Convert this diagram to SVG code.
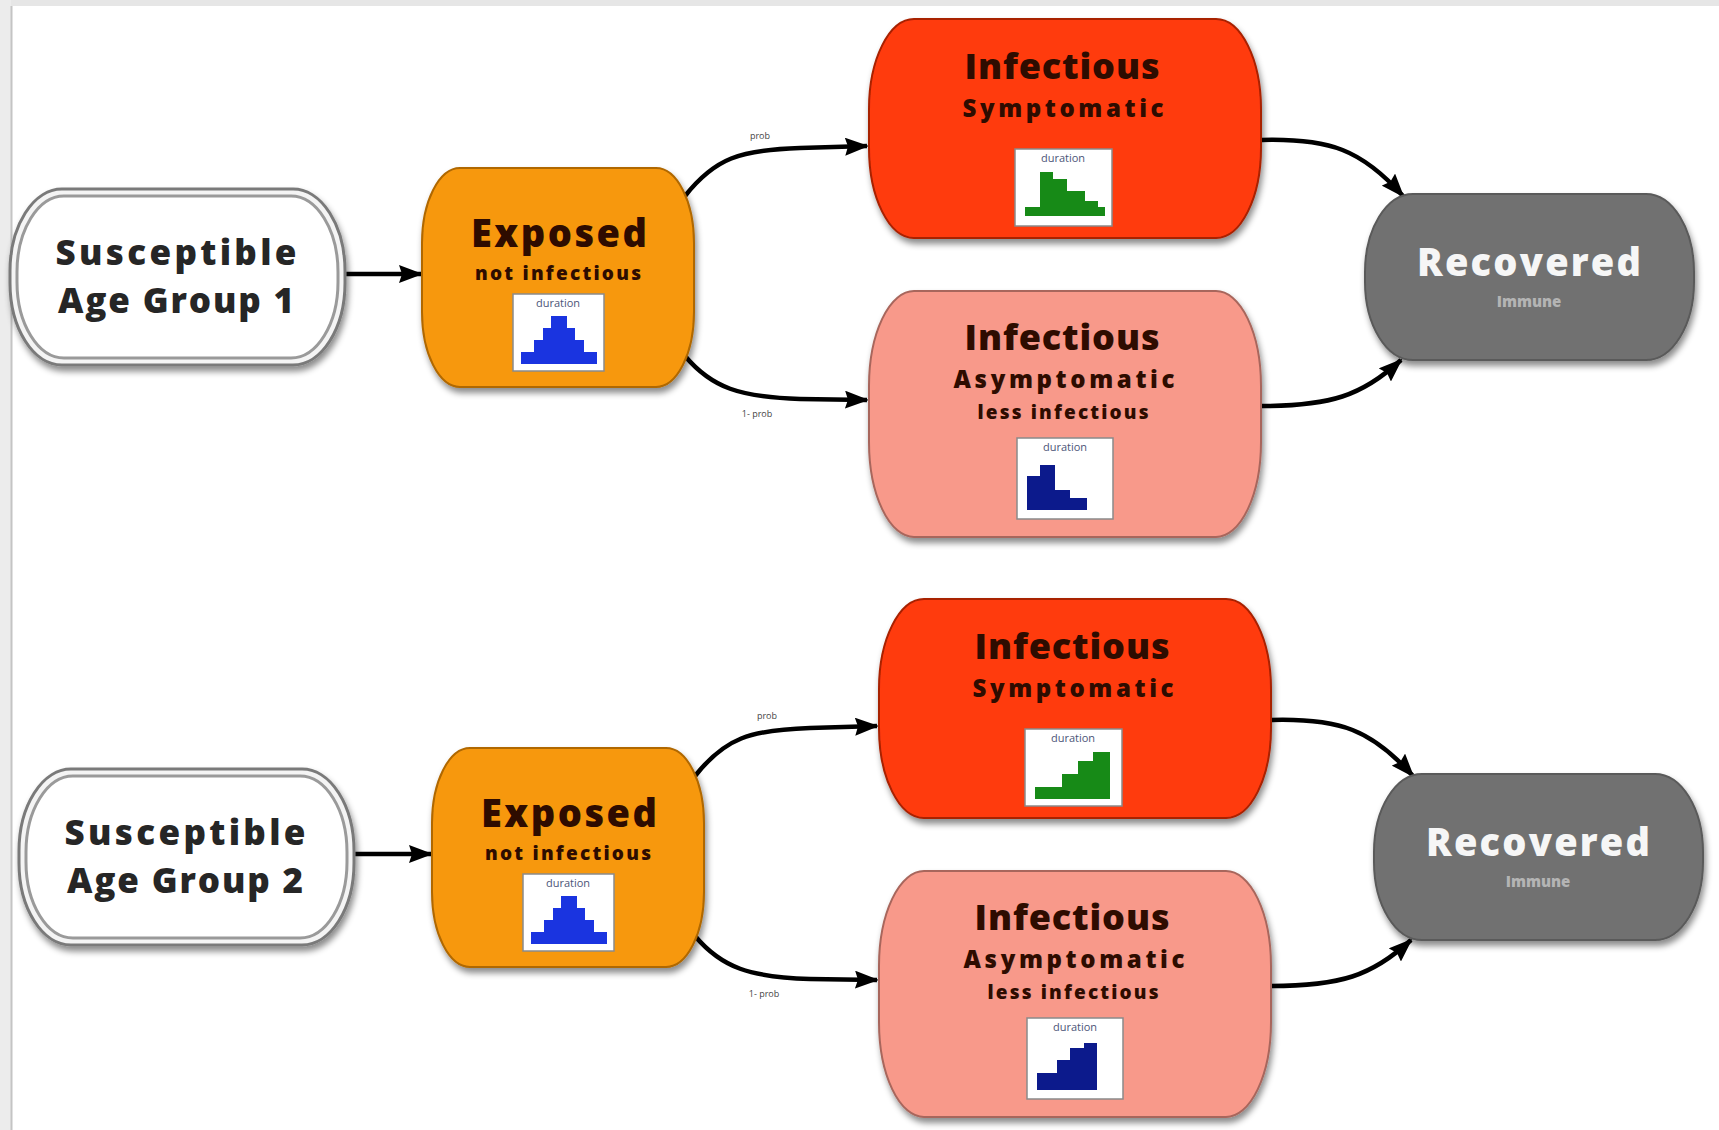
<svg xmlns="http://www.w3.org/2000/svg" width="1719" height="1130" viewBox="0 0 1719 1130">
<defs>
<filter id="sh" x="-10%" y="-10%" width="125%" height="130%">
<feDropShadow dx="2" dy="5" stdDeviation="3" flood-color="#000" flood-opacity="0.45"/>
</filter>
<marker id="ah" viewBox="0 0 24 18" refX="22" refY="9" markerWidth="24" markerHeight="18" markerUnits="userSpaceOnUse" orient="auto">
<path d="M0,0 L24,9 L0,18 L3,9 Z" fill="#000"/>
</marker>
<style>
.t{font-family:"Open Sans","DejaVu Sans",sans-serif;font-weight:800;text-anchor:middle}
.big{font-size:38px}
.sus1{font-size:35px}
.inf{font-size:36px}
.mid{font-size:24px}
.sm{font-size:19px}
.dark{fill:#2e0c00}
.sus{fill:#262626}
.exp{fill:#f7980f;stroke:#b06800;stroke-width:2}
.ins{fill:#ff3a0e;stroke:#a82000;stroke-width:2}
.ina{fill:#f8998a;stroke:#a8665c;stroke-width:2}
.rec{fill:#717171;stroke:#5a5a5a;stroke-width:2}
.hbox{fill:#fff;stroke:#8a8a8a;stroke-width:1.5}
.dur{font-family:"Open Sans","DejaVu Sans",sans-serif;font-size:11px;fill:#4c5578;text-anchor:middle}
.blue{fill:#1a34e0}
.green{fill:#178a17}
.navy{fill:#0c1a8c}
.conn{fill:none;stroke:#000;stroke-width:4.5;marker-end:url(#ah)}
.lbl{font-family:"Open Sans","DejaVu Sans",sans-serif;font-size:9px;fill:#444;text-anchor:middle}
</style>
</defs>
<rect x="0" y="0" width="1719" height="1130" fill="#fff"/>
<rect x="0" y="0" width="1719" height="6" fill="#e6e6e6"/>
<rect x="0" y="0" width="11" height="1130" fill="#ececec"/>
<line x1="11.5" y1="6" x2="11.5" y2="1130" stroke="#c4c4c4" stroke-width="2"/>

<g id="connectors">
<path class="conn" d="M345,274 L421,274"/>
<path class="conn" d="M685,196 C715,158 740,150 800,148 L867,146"/>
<path class="conn" d="M685,356 C712,388 740,397 800,399 L867,400"/>
<path class="conn" d="M1261,140 C1330,138 1362,150 1403,196"/>
<path class="conn" d="M1261,406 C1330,406 1362,396 1401,360"/>
<text class="lbl" x="760" y="139">prob</text>
<text class="lbl" x="757" y="417">1- prob</text>
<g transform="translate(10,580)">
<path class="conn" d="M345,274 L421,274"/>
<path class="conn" d="M685,196 C715,158 740,150 800,148 L867,146"/>
<path class="conn" d="M685,356 C712,388 740,397 800,399 L867,400"/>
<path class="conn" d="M1261,140 C1330,138 1362,150 1403,196"/>
<path class="conn" d="M1261,406 C1330,406 1362,396 1401,360"/>
<text class="lbl" x="757" y="139">prob</text>
<text class="lbl" x="754" y="417">1- prob</text>
</g>
</g>

<g id="susceptible1">
<rect x="10" y="189" width="335" height="176" rx="52" ry="82" fill="#f4f4f4" stroke="#7a7a7a" stroke-width="3" filter="url(#sh)"/>
<rect x="17" y="196" width="321" height="162" rx="47" ry="76" fill="#fff" stroke="#9a9a9a" stroke-width="3"/>
<text class="t sus1 sus" x="176" y="265" textLength="241">Susceptible</text>
<text class="t sus1 sus" x="176" y="313" textLength="236">Age Group 1</text>
</g>

<g id="exposed1">
<rect class="exp" x="422" y="168" width="272" height="219" rx="38" ry="75" filter="url(#sh)"/>
<text class="t big dark" x="559" y="247" textLength="176">Exposed</text>
<text class="t sm dark" x="558" y="280" textLength="166">not infectious</text>
<rect class="hbox" x="513" y="294" width="91" height="77"/>
<text class="dur" x="558" y="307">duration</text>
<g class="blue" transform="translate(513,294)">
<rect x="38" y="22" width="16" height="48"/>
<rect x="30" y="34" width="32" height="36"/>
<rect x="21" y="46" width="50" height="24"/>
<rect x="8" y="58" width="76" height="12"/>
</g>
</g>

<g id="infectious_sym1">
<rect class="ins" x="869" y="19" width="392" height="219" rx="45" ry="90" filter="url(#sh)"/>
<text class="t inf dark" x="1062" y="79" textLength="195">Infectious</text>
<text class="t mid dark" x="1063" y="117" textLength="201">Symptomatic</text>
<rect class="hbox" x="1015" y="149" width="97" height="77"/>
<text class="dur" x="1063" y="162">duration</text>
<g class="green" transform="translate(1015,149)">
<rect x="10" y="58" width="80" height="9"/>
<rect x="25" y="23" width="13" height="44"/>
<rect x="38" y="30" width="14" height="37"/>
<rect x="52" y="42" width="18" height="25"/>
<rect x="70" y="52" width="13" height="15"/>
</g>
</g>

<g id="infectious_asym1">
<rect class="ina" x="869" y="291" width="392" height="246" rx="45" ry="95" filter="url(#sh)"/>
<text class="t inf dark" x="1062" y="350" textLength="195">Infectious</text>
<text class="t mid dark" x="1064" y="388" textLength="221">Asymptomatic</text>
<text class="t sm dark" x="1063" y="419" textLength="171">less infectious</text>
<rect class="hbox" x="1017" y="438" width="96" height="81"/>
<text class="dur" x="1065" y="451">duration</text>
<g class="navy" transform="translate(1017,438)">
<rect x="10" y="38" width="13" height="34"/>
<rect x="23" y="27" width="15" height="45"/>
<rect x="38" y="52" width="15" height="20"/>
<rect x="53" y="60" width="17" height="12"/>
</g>
</g>

<g id="recovered1">
<rect class="rec" x="1365" y="194" width="329" height="166" rx="48" ry="78" filter="url(#sh)"/>
<text class="t big" fill="#f6f6f6" x="1529" y="276" textLength="224">Recovered</text>
<text class="t" font-size="15" fill="#b4b4b4" x="1529" y="307">Immune</text>
</g>

<g id="susceptible2" transform="translate(9,580)">
<rect x="10" y="189" width="335" height="176" rx="52" ry="82" fill="#f4f4f4" stroke="#7a7a7a" stroke-width="3" filter="url(#sh)"/>
<rect x="17" y="196" width="321" height="162" rx="47" ry="76" fill="#fff" stroke="#9a9a9a" stroke-width="3"/>
<text class="t sus1 sus" x="176" y="265" textLength="241">Susceptible</text>
<text class="t sus1 sus" x="176" y="313" textLength="236">Age Group 2</text>
</g>

<g id="exposed2" transform="translate(10,580)">
<rect class="exp" x="422" y="168" width="272" height="219" rx="38" ry="75" filter="url(#sh)"/>
<text class="t big dark" x="559" y="247" textLength="176">Exposed</text>
<text class="t sm dark" x="558" y="280" textLength="166">not infectious</text>
<rect class="hbox" x="513" y="294" width="91" height="77"/>
<text class="dur" x="558" y="307">duration</text>
<g class="blue" transform="translate(513,294)">
<rect x="38" y="22" width="16" height="48"/>
<rect x="30" y="34" width="32" height="36"/>
<rect x="21" y="46" width="50" height="24"/>
<rect x="8" y="58" width="76" height="12"/>
</g>
</g>

<g id="infectious_sym2" transform="translate(10,580)">
<rect class="ins" x="869" y="19" width="392" height="219" rx="45" ry="90" filter="url(#sh)"/>
<text class="t inf dark" x="1062" y="79" textLength="195">Infectious</text>
<text class="t mid dark" x="1063" y="117" textLength="201">Symptomatic</text>
<rect class="hbox" x="1015" y="149" width="97" height="77"/>
<text class="dur" x="1063" y="162">duration</text>
<g class="green" transform="translate(1015,149)">
<rect x="10" y="58" width="27" height="12"/>
<rect x="37" y="45" width="16" height="25"/>
<rect x="53" y="32" width="15" height="38"/>
<rect x="68" y="23" width="17" height="47"/>
</g>
</g>

<g id="infectious_asym2" transform="translate(10,580)">
<rect class="ina" x="869" y="291" width="392" height="246" rx="45" ry="95" filter="url(#sh)"/>
<text class="t inf dark" x="1062" y="350" textLength="195">Infectious</text>
<text class="t mid dark" x="1064" y="388" textLength="221">Asymptomatic</text>
<text class="t sm dark" x="1063" y="419" textLength="171">less infectious</text>
<rect class="hbox" x="1017" y="438" width="96" height="81"/>
<text class="dur" x="1065" y="451">duration</text>
<g class="navy" transform="translate(1017,438)">
<rect x="10" y="55" width="20" height="17"/>
<rect x="30" y="42" width="13" height="30"/>
<rect x="43" y="30" width="14" height="42"/>
<rect x="57" y="25" width="13" height="47"/>
</g>
</g>

<g id="recovered2" transform="translate(9,580)">
<rect class="rec" x="1365" y="194" width="329" height="166" rx="48" ry="78" filter="url(#sh)"/>
<text class="t big" fill="#f6f6f6" x="1529" y="276" textLength="224">Recovered</text>
<text class="t" font-size="15" fill="#b4b4b4" x="1529" y="307">Immune</text>
</g>
</svg>
